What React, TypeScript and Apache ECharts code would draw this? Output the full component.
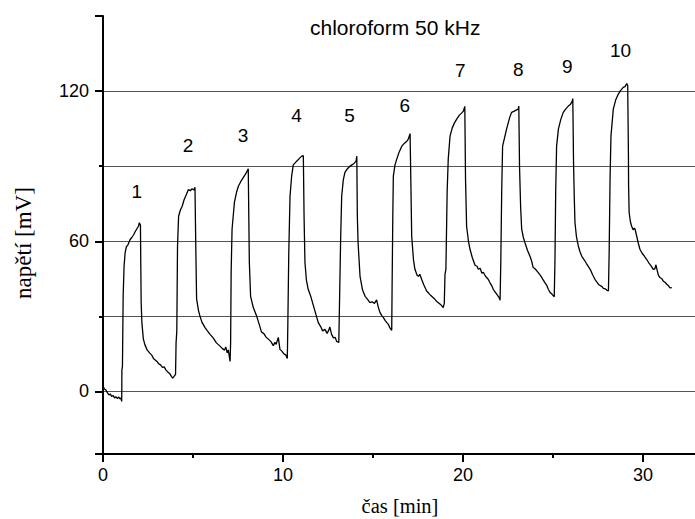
import React, { useEffect, useRef } from "react";
import * as echarts from "echarts";

// time [min], voltage [mV]
const baseline: number[][] = [
  [0.0, 2.0], [0.08, 1.0], [0.16, 0.6], [0.25, -0.6], [0.33, -1.4], [0.4, -1.0],
  [0.48, -2.0], [0.56, -1.6], [0.64, -2.6], [0.72, -2.1], [0.8, -2.9], [0.88, -2.2],
  [0.94, -3.0], [0.99, -2.6], [1.04, -4.0],
];
const pulse1: number[][] = [
  [1.05, 8.5], [1.08, 10], [1.12, 38], [1.17, 50], [1.23, 55.5], [1.3, 57.8], [1.4, 58.8],
  [1.5, 60.6], [1.6, 61.5], [1.7, 62.6], [1.8, 64.0], [1.9, 65.2], [1.97, 66.0], [2.02, 67.4],
  [2.08, 66.5], [2.1, 50], [2.12, 35.5], [2.16, 27.5], [2.24, 21], [2.33, 18.6], [2.45, 16.6],
  [2.6, 15.3], [2.72, 14.4], [2.8, 13.2], [2.9, 12.6], [3.0, 12.0], [3.1, 11.0], [3.2, 10.6],
  [3.3, 9.6], [3.4, 9.8], [3.5, 8.5], [3.6, 7.8], [3.7, 7.2], [3.8, 6.0], [3.87, 5.3], [3.95, 6.0], [4.03, 6.8],
];
const pulse2: number[][] = [
  [4.06, 19.5], [4.1, 24], [4.14, 58], [4.2, 70], [4.3, 72.5], [4.4, 74], [4.5, 76.5],
  [4.62, 78.5], [4.74, 80.6], [4.85, 80.2], [4.95, 81.0], [5.05, 80.5], [5.11, 81.6],
  [5.15, 60], [5.2, 37], [5.3, 32.5], [5.39, 30], [5.5, 27.6], [5.67, 25.5], [5.8, 24.2],
  [5.95, 22.8], [6.13, 21.3], [6.3, 19.4], [6.5, 18.1], [6.62, 17.2], [6.75, 16.5],
  [6.82, 17.8], [6.9, 15.4], [6.96, 16.6], [7.03, 13.4], [7.06, 12.0],
];
const pulse3: number[][] = [
  [7.09, 19.5], [7.12, 48], [7.17, 64.8], [7.3, 75.5], [7.42, 79.6], [7.52, 82], [7.65, 83.8],
  [7.8, 85.5], [7.95, 87.2], [8.07, 89.0], [8.1, 70], [8.13, 51.6], [8.2, 38], [8.35, 33.5],
  [8.54, 30], [8.68, 26.8], [8.8, 23.8], [8.95, 23.0], [9.05, 21.8], [9.2, 20.8], [9.32, 20.0],
  [9.46, 18.3], [9.55, 19.6], [9.62, 18.8], [9.74, 21.6], [9.83, 16.8], [9.95, 16.0],
  [10.05, 15.0], [10.15, 14.6], [10.24, 13.2],
];
const pulse4: number[][] = [
  [10.27, 27.5], [10.32, 55], [10.39, 78], [10.48, 86], [10.57, 90.5], [10.66, 91.2],
  [10.76, 92.0], [10.9, 93.0], [11.04, 94.0], [11.13, 94.2], [11.17, 70], [11.22, 51.5],
  [11.3, 44.5], [11.4, 40.8], [11.55, 37.8], [11.68, 34.5], [11.82, 31], [11.96, 27.5],
  [12.1, 25.8], [12.2, 24.2], [12.33, 24.8], [12.45, 23.2], [12.55, 24.6], [12.6, 25.8],
  [12.7, 22.8], [12.8, 21.4], [12.9, 21.6], [12.98, 20.0], [13.1, 19.6],
];
const pulse5: number[][] = [
  [13.14, 35.5], [13.2, 60], [13.26, 78], [13.35, 84.5], [13.44, 87.5], [13.58, 89.0],
  [13.72, 90.0], [13.85, 90.6], [13.96, 91.2], [14.06, 92.0], [14.1, 94.0], [14.13, 70],
  [14.17, 59.5], [14.28, 46], [14.42, 40.5], [14.56, 38], [14.7, 36.8], [14.83, 35.5],
  [14.95, 35.8], [15.08, 35.2], [15.2, 36.6], [15.3, 33.5], [15.39, 31.5], [15.5, 30.2],
  [15.57, 29.6], [15.67, 28.4], [15.78, 27.4], [15.85, 26.8], [15.94, 25.4], [16.04, 24.4],
];
const pulse6: number[][] = [
  [16.06, 40.8], [16.1, 70], [16.13, 86], [16.22, 90.4], [16.32, 92.8], [16.45, 95.6],
  [16.6, 98.0], [16.75, 99.2], [16.88, 100.0], [16.96, 100.8], [17.06, 103.0], [17.1, 85],
  [17.15, 62], [17.25, 52.5], [17.33, 48.8], [17.45, 46.4], [17.52, 46.0], [17.6, 46.8],
  [17.7, 44.8], [17.82, 42.6], [17.98, 40.1], [18.1, 39.2], [18.2, 38.4], [18.32, 37.6],
  [18.44, 36.8], [18.56, 35.8], [18.7, 35.0], [18.8, 34.4], [18.9, 33.5], [18.96, 35.2],
];
const pulse7: number[][] = [
  [19.0, 46.8], [19.05, 48.8], [19.12, 80], [19.18, 92.8], [19.28, 102], [19.4, 105.2],
  [19.52, 107.2], [19.65, 108.8], [19.8, 110.4], [19.92, 111.2], [20.02, 112.0],
  [20.1, 113.9], [20.14, 85], [20.2, 66], [20.3, 60.2], [20.39, 56.8], [20.52, 53.4],
  [20.67, 50.4], [20.78, 50.0], [20.85, 48.8], [20.95, 49.2], [21.05, 47.2], [21.13, 47.6],
  [21.25, 46.0], [21.4, 44.8], [21.5, 43.4], [21.6, 42.2], [21.68, 40.8], [21.8, 39.6],
  [21.9, 38.6], [22.0, 37.6], [22.06, 36.4],
];
const pulse8: number[][] = [
  [22.1, 51.5], [22.15, 80], [22.2, 98], [22.33, 102], [22.42, 104.8], [22.52, 107.5],
  [22.6, 109.6], [22.7, 111.5], [22.85, 112.0], [22.95, 112.4], [23.07, 112.8], [23.1, 114.0],
  [23.14, 90], [23.2, 74], [23.26, 64.8], [23.35, 61.6], [23.44, 59.5], [23.58, 56.4],
  [23.72, 54.0], [23.8, 52.4], [23.9, 49.5], [24.0, 49.0], [24.1, 48.2], [24.18, 47.5],
  [24.3, 46.4], [24.42, 45.0], [24.55, 43.5], [24.65, 42.4], [24.74, 40.8], [24.83, 39.6],
  [24.95, 38.8], [25.07, 37.8],
];
const pulse9: number[][] = [
  [25.11, 52.8], [25.15, 80], [25.2, 98], [25.3, 104.8], [25.43, 108.6], [25.57, 111.5],
  [25.7, 112.8], [25.85, 114.0], [25.96, 114.6], [26.07, 116.0], [26.1, 117.0], [26.14, 92],
  [26.18, 78], [26.22, 67.5], [26.3, 62.0], [26.41, 58], [26.5, 55.8], [26.6, 54.0],
  [26.75, 52.4], [26.85, 51.2], [26.96, 50.0], [27.08, 48.6], [27.2, 46.6], [27.33, 44.8],
  [27.45, 43.6], [27.55, 42.6], [27.7, 42.0], [27.8, 41.2], [27.9, 41.0], [28.0, 40.4], [28.08, 40.2],
];
const pulse10: number[][] = [
  [28.12, 55.5], [28.17, 85], [28.22, 102], [28.35, 112.8], [28.48, 116.4], [28.63, 118.8],
  [28.75, 120.2], [28.9, 121.5], [29.0, 121.8], [29.1, 123.0], [29.15, 122.2], [29.17, 122.0],
  [29.19, 95], [29.2, 82], [29.23, 71.5], [29.3, 67.8], [29.37, 66.0], [29.45, 64.6],
  [29.52, 65.2], [29.56, 64.8], [29.65, 62.0], [29.74, 59.2], [29.83, 56.8], [29.95, 55.2],
  [30.08, 54.0], [30.2, 52.8], [30.32, 51.4], [30.45, 50.2], [30.57, 48.8], [30.66, 49.0],
  [30.72, 50.6], [30.8, 48.0], [30.86, 46.4], [30.94, 45.5], [31.05, 45.0], [31.14, 44.0],
  [31.22, 43.6], [31.32, 42.8], [31.42, 42.2], [31.5, 41.4], [31.6, 41.5],
];

const peakNumbers = ["1", "2", "3", "4", "5", "6", "7", "8", "9", "10"];
const peakLabelTime = [1.87, 4.72, 7.78, 10.75, 13.7, 16.77, 19.85, 23.07, 25.8, 28.75];
const peakLabelVoltage = [80.0, 98.3, 102.3, 110.3, 110.3, 114.4, 128.2, 128.7, 129.7, 136.3];

const xTickLabels = [0, 10, 20, 30];
const yTickLabels = [0, 60, 120];

const trace = [
  ...baseline, ...pulse1, ...pulse2, ...pulse3, ...pulse4,
  ...pulse5, ...pulse6, ...pulse7, ...pulse8, ...pulse9, ...pulse10,
];

export default function App() {
  const ref = useRef<HTMLDivElement>(null);
  useEffect(() => {
    if (!ref.current) return;
    document.body.style.margin = "0";
    document.body.style.overflow = "hidden";
    const chart = echarts.init(ref.current, undefined, { renderer: "svg" });
    const sans = "Liberation Sans, Arial, sans-serif";
    const serif = "Liberation Serif, Times New Roman, serif";
    chart.setOption({
      animation: false,
      backgroundColor: "#ffffff",
      title: {
        text: "chloroform 50 kHz",
        left: 305,
        top: 12,
        textStyle: { fontFamily: sans, fontSize: 21, fontWeight: "normal", color: "#000" },
      },
      graphic: [
        {
          type: "text",
          x: 23,
          y: 243,
          rotation: Math.PI / 2,
          style: {
            text: "napětí [mV]",
            fontFamily: serif,
            fontSize: 23,
            fill: "#000",
            align: "center",
            verticalAlign: "middle",
          },
        },
      ],
      grid: {
        left: 103,
        top: 16,
        width: 594,
        height: 438,
        containLabel: false,
        outerBoundsMode: "none",
      },
      xAxis: {
        type: "value",
        min: 0,
        max: 33,
        interval: 10,
        name: "čas [min]",
        nameLocation: "middle",
        nameGap: 41,
        nameTextStyle: { fontFamily: serif, fontSize: 20.5, color: "#000" },
        axisLine: { show: true, onZero: false, lineStyle: { color: "#000", width: 2 } },
        axisTick: { show: true, length: 8, lineStyle: { color: "#000", width: 2 } },
        minorTick: { show: true, splitNumber: 2, length: 4, lineStyle: { color: "#000", width: 2 } },
        axisLabel: {
          margin: 12,
          fontFamily: sans,
          fontSize: 18,
          color: "#000",
          formatter: (v: number) => (xTickLabels.includes(v) ? String(v) : ""),
        },
        splitLine: { show: false },
      },
      yAxis: {
        type: "value",
        min: -25,
        max: 150,
        minInterval: 60,
        maxInterval: 60,
        axisLine: { show: true, onZero: false, lineStyle: { color: "#000", width: 2 } },
        axisTick: { show: true, length: 8, lineStyle: { color: "#000", width: 2 } },
        minorTick: { show: true, splitNumber: 2, length: 4, lineStyle: { color: "#000", width: 2 } },
        axisLabel: {
          margin: 14,
          fontFamily: sans,
          fontSize: 18,
          color: "#000",
          formatter: (v: number) => {
            const r = Math.round(v) + 0;
            return yTickLabels.includes(r) && Math.abs(v - r) < 1e-6 ? String(r) : "";
          },
        },
        splitLine: {
          show: true,
          showMinLine: false,
          showMaxLine: false,
          lineStyle: { color: "#555", width: 1 },
        },
        minorSplitLine: { show: true, lineStyle: { color: "#555", width: 1 } },
      },
      series: [
        {
          type: "line",
          data: trace,
          showSymbol: false,
          symbol: "none",
          lineStyle: { color: "#000", width: 1.3 },
          z: 3,
        },
        {
          type: "scatter",
          symbolSize: 1,
          itemStyle: { color: "rgba(0,0,0,0)", opacity: 1 },
          data: peakNumbers.map((n, i) => ({ name: n, value: [peakLabelTime[i], peakLabelVoltage[i]] })),
          label: {
            show: true,
            position: "inside",
            formatter: "{b}",
            fontFamily: sans,
            fontSize: 19,
            color: "#000",
            opacity: 1,
            textBorderWidth: 0,
          },
          z: 4,
        },
      ],
    });
    return () => chart.dispose();
  }, []);
  return (
    <div
      ref={ref}
      style={{ position: "absolute", left: 0, top: 0, width: 695, height: 519 }}
    />
  );
}
